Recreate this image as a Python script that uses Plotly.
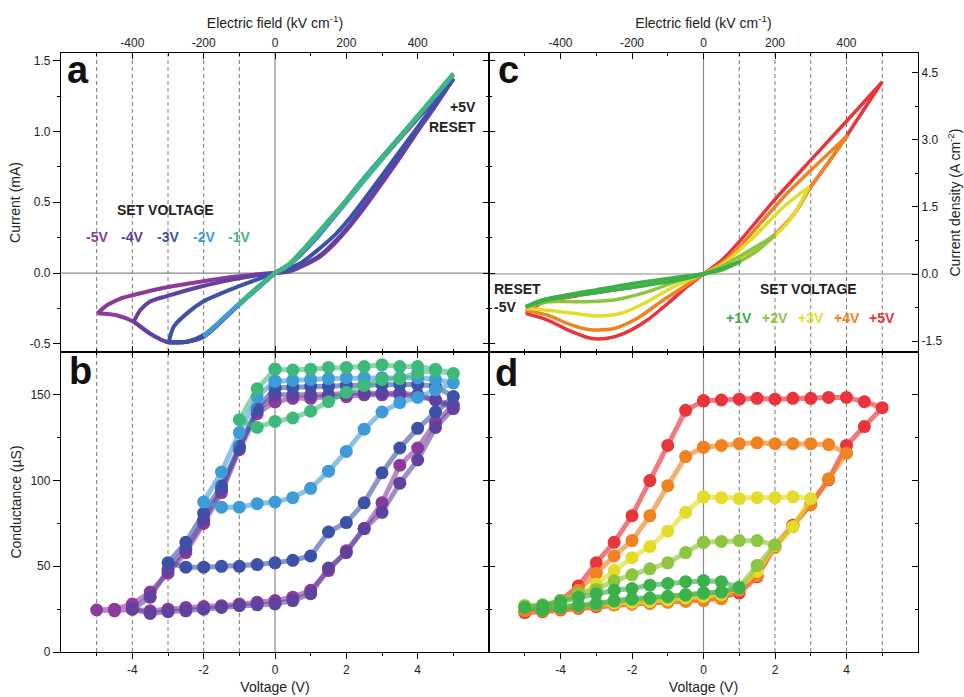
import plotly.graph_objects as go

# ---------------- data ----------------
SET_NEG = [-5, -4, -3, -2, -1]
SET_POS = [1, 2, 3, 4, 5]
LBL_NEG = ['-5V', '-4V', '-3V', '-2V', '-1V']
LBL_POS = ['+1V', '+2V', '+3V', '+4V', '+5V']
COL_NEG = ['#8C3B9C', '#6141A0', '#3C52A8', '#3D9BD8', '#3DB97C']
COL_POS = ['#3CB04A', '#8DC540', '#E2DC2B', '#F08220', '#E8343A']

V_TICKS = [-4, -2, 0, 2, 4]
V_MINOR = [-5, -3, -1, 1, 3, 5]
E_TICKS = [-400, -200, 0, 200, 400]
E_MINOR = [-500, -300, -100, 100, 300, 500]
I_TICKS = [-0.5, 0.0, 0.5, 1.0, 1.5]
I_MINOR = [-0.25, 0.25, 0.75, 1.25]
J_TICKS = [-1.5, 0.0, 1.5, 3.0, 4.5]
J_MINOR = [-0.75, 0.75, 2.25, 3.75]
G_TICKS = [0, 50, 100, 150]
G_MINOR = [25, 75, 125]

# ---- panel a: I-V (mA), branches (V list, I list) ----
IV_A_M5 = [
    ([0, -1.02, -2.0, -2.47, -3.03, -3.49, -3.96, -4.42, -4.98],
     [0, -0.226, -0.45, -0.485, -0.487, -0.43, -0.344, -0.30, -0.285]),
    ([-4.98, -4.7, -4.33, -3.96, -3.49, -3.03, -2.1, -1.15, -0.4, 0],
     [-0.285, -0.226, -0.18, -0.155, -0.125, -0.10, -0.061, -0.026, -0.007, 0]),
    ([0, 0.42, 0.88, 1.26, 1.63, 2.09, 2.56, 3.03, 3.49, 3.96, 4.42, 5.0],
     [0, 0.012, 0.062, 0.115, 0.198, 0.327, 0.48, 0.645, 0.81, 0.987, 1.152, 1.37]),
    ([5.0, 3.96, 2.56, 1.16, 0.42, 0],
     [1.37, 1.08, 0.68, 0.245, 0.062, 0]),
]
IV_A_M4 = [
    ([0, -1.02, -2.0, -2.47, -3.03, -3.49, -3.96],
     [0, -0.226, -0.45, -0.485, -0.487, -0.43, -0.344]),
    ([-3.96, -3.77, -3.49, -3.03, -2.1, -1.16, -0.4, 0],
     [-0.344, -0.26, -0.2, -0.163, -0.097, -0.045, -0.012, 0]),
    ([0, 0.42, 0.88, 1.26, 1.63, 2.09, 2.56, 3.03, 3.49, 3.96, 4.42, 5.0],
     [0, 0.015, 0.068, 0.125, 0.21, 0.34, 0.495, 0.66, 0.825, 1.0, 1.165, 1.375]),
    ([5.0, 3.96, 2.56, 1.16, 0.42, 0],
     [1.375, 1.085, 0.685, 0.25, 0.064, 0]),
]
IV_A_M3 = [
    ([0, -1.02, -2.0, -2.47, -2.98],
     [0, -0.226, -0.438, -0.485, -0.487]),
    ([-2.98, -2.84, -2.47, -2.0, -1.16, -0.42, 0],
     [-0.487, -0.38, -0.285, -0.2, -0.108, -0.038, 0]),
    ([0, 0.7, 1.63, 2.09, 2.56, 3.49, 4.42, 4.98],
     [0, 0.068, 0.257, 0.386, 0.54, 0.857, 1.175, 1.376]),
    ([4.98, 3.96, 2.56, 1.16, 0.42, 0],
     [1.376, 1.09, 0.69, 0.25, 0.066, 0]),
]
IV_A_M2 = [
    ([0, -1.02, -2.0], [0, -0.226, -0.45]),
    ([-2.0, -1.16, -0.5, 0], [-0.45, -0.25, -0.1, 0]),
    ([0, 0.42, 1.16, 2.56, 3.96, 5.0], [0, 0.06, 0.25, 0.67, 1.09, 1.40]),
    ([5.0, 3.96, 2.56, 1.16, 0.42, 0], [1.40, 1.10, 0.69, 0.26, 0.065, 0]),
]
IV_A_M1 = [
    ([0, -0.5, -1.02], [0, -0.105, -0.226]),
    ([-1.02, -0.5, 0], [-0.226, -0.105, 0]),
    ([0, 0.4, 0.8, 1.5, 2.5, 3.5, 5.0], [0, 0.065, 0.17, 0.37, 0.66, 0.96, 1.41]),
    ([5.0, 3.5, 2.5, 1.5, 0.8, 0.4, 0], [1.41, 0.96, 0.66, 0.37, 0.17, 0.065, 0]),
]
IV_A = [IV_A_M5, IV_A_M4, IV_A_M3, IV_A_M2, IV_A_M1]

# ---- panel c: J-V (A cm^-2) ----
JV_C_P1 = [
    ([0, -0.6, -1.57, -2.5, -3.43, -4.36, -4.97], [0, -0.12, -0.25, -0.36, -0.46, -0.58, -0.73]),
    ([-4.97, -4.6, -3.9, -2.97, -2.03, -1.0, 0], [-0.73, -0.6, -0.48, -0.35, -0.22, -0.1, 0]),
    ([0, 0.5, 1.04], [0, 0.1, 0.28]),
    ([1.04, 0.5, 0], [0.28, 0.12, 0]),
]
JV_C_P2 = [
    ([0, -0.63, -1.57, -2.5, -3.43, -4.36, -4.97], [0, -0.13, -0.40, -0.58, -0.62, -0.62, -0.75]),
    ([-4.97, -4.5, -3.5, -2.5, -1.5, -0.7, 0], [-0.75, -0.58, -0.45, -0.33, -0.2, -0.08, 0]),
    ([0, 0.5, 1.04, 1.5, 2.02], [0, 0.08, 0.29, 0.52, 0.88]),
    ([2.02, 1.32, 0.48, 0], [0.88, 0.54, 0.16, 0]),
]
JV_C_P3 = [
    ([0, -0.82, -1.57, -2.31, -2.97, -3.62, -4.36, -4.97], [0, -0.28, -0.62, -0.88, -0.94, -0.88, -0.81, -0.77]),
    ([-4.97, -4.5, -3.5, -2.5, -1.5, -0.7, 0], [-0.77, -0.6, -0.46, -0.34, -0.2, -0.09, 0]),
    ([0, 0.5, 1.04, 1.5, 2.02, 2.5, 2.95], [0, 0.1, 0.31, 0.55, 0.88, 1.3, 1.95]),
    ([2.95, 2.25, 1.32, 0.5, 0], [1.95, 1.51, 0.76, 0.2, 0]),
]
JV_C_P4 = [
    ([0, -0.54, -1.19, -1.85, -2.5, -3.15, -3.71, -4.36, -4.97], [0, -0.28, -0.62, -0.99, -1.22, -1.25, -1.14, -0.92, -0.82]),
    ([-4.97, -4.5, -3.5, -2.5, -1.5, -0.7, 0], [-0.82, -0.62, -0.47, -0.35, -0.21, -0.09, 0]),
    ([0, 0.5, 1.04, 1.5, 2.02, 2.53, 3.0, 3.5, 4.03], [0, 0.1, 0.31, 0.56, 0.9, 1.34, 1.95, 2.5, 3.1]),
    ([4.03, 3.0, 2.25, 1.5, 1.04, 0.5, 0], [3.1, 2.32, 1.73, 1.05, 0.63, 0.24, 0]),
]
JV_C_P5 = [
    ([0, -0.45, -1.0, -1.57, -2.22, -2.69, -3.15, -3.8, -4.36, -4.97], [0, -0.28, -0.66, -1.03, -1.33, -1.44, -1.44, -1.25, -1.03, -0.88]),
    ([-4.97, -4.5, -3.5, -2.5, -1.5, -0.7, 0], [-0.88, -0.64, -0.48, -0.36, -0.22, -0.09, 0]),
    ([0, 0.5, 1.04, 1.5, 2.02, 2.53, 3.0, 3.5, 4.03, 4.5, 5.0], [0, 0.1, 0.31, 0.56, 0.9, 1.34, 1.95, 2.5, 3.12, 3.7, 4.3]),
    ([5.0, 4.0, 3.0, 2.0, 1.04, 0.5, 0], [4.3, 3.42, 2.55, 1.67, 0.76, 0.3, 0]),
]
JV_C = [JV_C_P1, JV_C_P2, JV_C_P3, JV_C_P4, JV_C_P5]

# ---- panel b: conductance (uS), sweep 0 -> Vset -> +5 -> 0 (0.5 V steps) ----
G_B_M5 = [146, 139, 118, 93, 75, 58, 46, 35, 28, 25, 24.5,
          24, 25, 24, 25, 26, 26.5, 27, 28, 29, 30, 32, 36, 47.5, 59, 72, 87, 109, 119, 134, 144,
          147, 149, 150, 150, 150, 149, 149, 148, 148, 146]
G_B_M4 = [150, 141, 119, 95, 77, 60, 48, 32, 25,
          22.5, 23.5, 24, 25, 26, 27, 27.5, 28, 30, 34, 49, 58, 72, 81.5, 98.5, 112, 131, 142,
          147, 150, 151, 151, 151, 151, 150, 150, 150, 150]
G_B_M3 = [154, 142, 120, 97, 81, 64, 52,
          49.5, 49.5, 50, 50, 51, 52, 53.5, 56, 70, 75.5, 87, 104.5, 119, 130.5, 140, 149,
          155, 156, 156, 156, 156, 155.5, 155, 155, 154.5, 154]
G_B_M2 = [158, 149, 128, 105, 87.5,
          84.5, 84.5, 86.5, 87.5, 90, 95.5, 105.5, 117, 130, 140, 145.5, 148.5, 153, 157,
          159, 160, 160, 160, 160, 160, 159.5, 159, 158.5, 158]
G_B_M1 = [165, 153.5, 135.5,
          131, 134.5, 136.5, 140.5, 146, 151.5, 155.5, 159, 159.5, 163, 164, 162.5,
          165, 166.5, 166.5, 167.5, 166.5, 166, 166, 165, 164.5, 165]
G_B = [G_B_M5, G_B_M4, G_B_M3, G_B_M2, G_B_M1]

# ---- panel d: conductance (uS), sweep 0 -> -5 -> Vset -> 0 (0.5 V steps) ----
G_D_P1 = [41.5, 41, 40, 39, 37, 36, 34, 32, 29.5, 27, 26,
          24.5, 26, 27, 28, 30, 31, 31.5, 32.5, 33.5, 34.5, 35, 37.5,
          41, 41.5]
G_D_P2 = [64, 58, 52, 48.5, 45, 41.5, 36.5, 34, 30, 27.5, 27,
          25.5, 26.5, 27.5, 28.5, 29.5, 30.5, 31, 32, 33, 34, 35, 38, 50.5, 62.5,
          65, 65, 64.5, 64]
G_D_P3 = [90.5, 81.5, 70.5, 61.5, 55, 47.5, 39.5, 33, 29, 27, 27,
          26, 26.5, 27, 28, 28.5, 29, 29.5, 30.5, 31.5, 32.5, 33.5, 37.5, 47, 62, 73, 89.5,
          90.5, 90, 90, 89.5, 90, 90.5]
G_D_P4 = [119.5, 114, 97, 79.5, 65, 56, 46, 36, 30, 25.5, 24,
          24, 25, 26, 27, 27.5, 28, 28.5, 29, 29.5, 30, 31, 36, 44.5, 61, 73, 86, 101, 116,
          121, 121.5, 121.5, 121.5, 122, 121.5, 120.5, 119.5]
G_D_P5 = [146.5, 141, 120.5, 100, 79.5, 64, 52, 38.5, 30, 25, 23,
          23.5, 24.5, 25.5, 26.5, 27.5, 28, 28.5, 29.5, 30, 30.5, 32, 34.5, 44, 62, 74, 86, 100.5, 120.5, 131.5, 142.5,
          146, 148.5, 148.5, 148, 148, 147.5, 148, 147.5, 147, 146.5]
G_D = [G_D_P1, G_D_P2, G_D_P3, G_D_P4, G_D_P5]


def sweep_neg(vset, step=0.5, vmax=5):
    n1 = int(round(-vset / step))
    down = [-step * k for k in range(n1 + 1)]
    n2 = int(round((vmax - vset) / step))
    up = [vset + step * k for k in range(1, n2 + 1)]
    n3 = int(round(vmax / step))
    back = [vmax - step * k for k in range(1, n3 + 1)]
    return down + up + back


def sweep_pos(vset, step=0.5, vmin=-5):
    n1 = int(round(-vmin / step))
    down = [-step * k for k in range(n1 + 1)]
    n2 = int(round((vset - vmin) / step))
    up = [vmin + step * k for k in range(1, n2 + 1)]
    n3 = int(round(vset / step))
    back = [vset - step * k for k in range(1, n3 + 1)]
    return down + up + back


def join_branches(branches):
    xs, ys = [], []
    for bx, by in branches:
        if xs:
            xs.append(None)
            ys.append(None)
        xs += list(bx)
        ys += list(by)
    return xs, ys


def rgba(hexc, a):
    h = hexc.lstrip('#')
    return 'rgba(%d,%d,%d,%.2f)' % (int(h[0:2], 16), int(h[2:4], 16), int(h[4:6], 16), a)


# ---------------- layout geometry ----------------
W, H = 964, 697
ML, MR, MT, MB = 61, 46, 53, 45
PW, PH = W - ML - MR, H - MT - MB
DL = 428 / PW          # split between left / right columns
DY = 1 - 299 / PH      # split between top / bottom rows
FONT = 'Liberation Sans, Arial, sans-serif'
TXT = '#222222'


def px2x(px):
    return (px - ML) / PW


def py2y(py):
    return (H - MB - py) / PH


fig = go.Figure()

# panel a
for br, col in zip(IV_A, COL_NEG):
    xs, ys = join_branches(br)
    fig.add_trace(go.Scatter(x=xs, y=ys, mode='lines', xaxis='x2', yaxis='y2',
                             line=dict(color=col, width=4, shape='spline', smoothing=0.7),
                             connectgaps=False, hoverinfo='skip'))
# panel c (red first, green on top)
for br, col in reversed(list(zip(JV_C, COL_POS))):
    xs, ys = join_branches(br)
    fig.add_trace(go.Scatter(x=xs, y=ys, mode='lines', xaxis='x4', yaxis='y4',
                             line=dict(color=col, width=3.5, shape='spline', smoothing=0.7),
                             connectgaps=False, hoverinfo='skip'))
# panel b
for vs, g, col in zip(SET_NEG, G_B, COL_NEG):
    v = sweep_neg(vs)
    assert len(v) == len(g), (vs, len(v), len(g))
    fig.add_trace(go.Scatter(x=v, y=g, mode='lines+markers', xaxis='x', yaxis='y',
                             line=dict(color=rgba(col, 0.6), width=5),
                             marker=dict(color=col, size=13, line=dict(width=0)),
                             hoverinfo='skip'))
# panel d (red first)
for vs, g, col in reversed(list(zip(SET_POS, G_D, COL_POS))):
    v = sweep_pos(vs)
    assert len(v) == len(g), (vs, len(v), len(g))
    fig.add_trace(go.Scatter(x=v, y=g, mode='lines+markers', xaxis='x3', yaxis='y3',
                             line=dict(color=rgba(col, 0.65), width=5),
                             marker=dict(color=col, size=13, line=dict(width=0)),
                             hoverinfo='skip'))

# dummy traces so that the mirror / secondary axes are instantiated
for xa, ya in [('x5', 'y'), ('x', 'y5'), ('x6', 'y2'), ('x2', 'y6'),
               ('x7', 'y3'), ('x3', 'y7'), ('x8', 'y4'), ('x4', 'y8')]:
    fig.add_trace(go.Scatter(x=[None], y=[None], xaxis=xa, yaxis=ya, mode='lines',
                             showlegend=False, hoverinfo='skip'))

tickfont = dict(family=FONT, size=12, color=TXT)
titlefont = dict(family=FONT, size=14, color=TXT)


def fmt(vals, nd=None):
    if nd is None:
        return [str(int(v)) for v in vals]
    return [('%.' + str(nd) + 'f') % v for v in vals]


def ax(domain, anchor, rng, tv, tt, minor_vals, ticks, labels, side=None, overlaying=None,
       title=None, standoff=None, major_len=6, minor_len=3):
    d = dict(domain=domain, anchor=anchor, range=rng, tickmode='array', tickvals=tv,
             ticktext=tt, showticklabels=labels, ticks=ticks, ticklen=major_len, tickwidth=1,
             tickcolor='black', showline=True, linecolor='black', linewidth=1.3,
             mirror=False, showgrid=False, zeroline=False, automargin=False,
             tickfont=tickfont,
             minor=dict(tickmode='array', tickvals=minor_vals, ticks=ticks, ticklen=minor_len,
                        tickwidth=1, tickcolor='black', showgrid=False))
    if side:
        d['side'] = side
    if overlaying:
        d['overlaying'] = overlaying
        d.pop('domain')
    if title:
        d['title'] = dict(text=title, font=titlefont, standoff=standoff)
    return d


VR = [-6, 6]
ER = [-600, 600]
IR = [-0.558, 1.555]
JR = [-1.746, 4.947]
GR = [0, 175]
LEFT = [0, DL]
RIGHT = [DL, 1]
BOT = [0, DY]
TOP = [DY, 1]

layout_axes = dict(
    # panel b
    xaxis=ax(LEFT, 'y', VR, V_TICKS, fmt(V_TICKS), V_MINOR, 'outside', True,
             title='Voltage (V)', standoff=6),
    yaxis=ax(BOT, 'x', GR, G_TICKS, fmt(G_TICKS), G_MINOR, 'outside', True,
             title='Conductance (µS)', standoff=5, major_len=7),
    xaxis5=ax(None, 'y', VR, V_TICKS, fmt(V_TICKS), V_MINOR, 'inside', False,
              side='top', overlaying='x'),
    yaxis5=ax(None, 'x', GR, G_TICKS, fmt(G_TICKS), G_MINOR, 'inside', False,
              side='right', overlaying='y'),
    # panel a
    xaxis2=ax(LEFT, 'y2', VR, V_TICKS, fmt(V_TICKS), V_MINOR, 'inside', False),
    yaxis2=ax(TOP, 'x2', IR, I_TICKS, fmt(I_TICKS, 1), I_MINOR, 'outside', True,
              title='Current (mA)', standoff=5, major_len=7),
    xaxis6=ax(None, 'y2', ER, E_TICKS, fmt(E_TICKS), E_MINOR, 'inside', True,
              side='top', overlaying='x2', title='Electric field (kV cm<sup>-1</sup>)', standoff=4),
    yaxis6=ax(None, 'x2', IR, I_TICKS, fmt(I_TICKS, 1), I_MINOR, 'inside', False,
              side='right', overlaying='y2'),
    # panel d
    xaxis3=ax(RIGHT, 'y3', VR, V_TICKS, fmt(V_TICKS), V_MINOR, 'outside', True,
              title='Voltage (V)', standoff=6),
    yaxis3=ax(BOT, 'x3', GR, G_TICKS, fmt(G_TICKS), G_MINOR, 'inside', False),
    xaxis7=ax(None, 'y3', VR, V_TICKS, fmt(V_TICKS), V_MINOR, 'inside', False,
              side='top', overlaying='x3'),
    yaxis7=ax(None, 'x3', GR, G_TICKS, fmt(G_TICKS), G_MINOR, 'inside', False,
              side='right', overlaying='y3'),
    # panel c
    xaxis4=ax(RIGHT, 'y4', VR, V_TICKS, fmt(V_TICKS), V_MINOR, 'inside', False),
    yaxis4=ax(TOP, 'x4', JR, J_TICKS, fmt(J_TICKS, 1), J_MINOR, 'inside', True,
              side='right', title='Current density (A cm<sup>-2</sup>)', standoff=8),
    xaxis8=ax(None, 'y4', ER, E_TICKS, fmt(E_TICKS), E_MINOR, 'inside', True,
              side='top', overlaying='x4', title='Electric field (kV cm<sup>-1</sup>)', standoff=4),
    yaxis8=ax(None, 'x4', IR, I_TICKS, fmt(I_TICKS, 1), I_MINOR, 'inside', False,
              side='left', overlaying='y4'),
)

shapes = []
dash_style = dict(color='#7a7a7a', width=1, dash='4px,3px')
for v in SET_NEG:
    shapes.append(dict(type='line', xref='x', yref='paper', x0=v, x1=v, y0=0, y1=1,
                       line=dash_style, layer='below'))
for v in SET_POS:
    shapes.append(dict(type='line', xref='x3', yref='paper', x0=v, x1=v, y0=0, y1=1,
                       line=dash_style, layer='below'))
zero_style = dict(color='#8a8a8a', width=1.2)
for xr in ['x', 'x3']:
    shapes.append(dict(type='line', xref=xr, yref='paper', x0=0, x1=0, y0=0, y1=1,
                       line=zero_style, layer='below'))
shapes.append(dict(type='line', xref='paper', yref='y2', x0=0, x1=DL, y0=0, y1=0,
                   line=zero_style, layer='below'))
shapes.append(dict(type='line', xref='paper', yref='y4', x0=DL, x1=1, y0=0, y1=0,
                   line=zero_style, layer='below'))

ann = []


def add_text(text, px, py, size, color=TXT, bold=True, xanchor='center', xref='paper', xval=None):
    ann.append(dict(text=('<b>%s</b>' % text) if bold else text,
                    x=(xval if xval is not None else px2x(px)), xref=xref,
                    y=py2y(py), yref='paper', xanchor=xanchor, yanchor='middle',
                    showarrow=False, font=dict(family=FONT, size=size, color=color)))


# panel letters
add_text('a', 78, 70, 38, color='#111')
add_text('b', 80, 371, 38, color='#111')
add_text('c', 508, 70, 38, color='#111')
add_text('d', 507, 373, 38, color='#111')
# panel a labels
add_text('SET VOLTAGE', 165, 210, 14)
for v, t, c in zip(SET_NEG, LBL_NEG, COL_NEG):
    add_text(t, 0, 237, 14, color=c, xref='x2', xval=v)
add_text('+5V', 478, 107, 14, xanchor='right')
add_text('RESET', 478, 127, 14, xanchor='right')
# panel c labels
add_text('RESET', 492, 289, 14, xanchor='left')
add_text('-5V', 492, 307, 14, xanchor='left')
add_text('SET VOLTAGE', 808, 289, 14)
for v, t, c in zip(SET_POS, LBL_POS, COL_POS):
    add_text(t, 0, 318, 14, color=c, xref='x4', xval=v)

fig.update_layout(
    width=W, height=H,
    margin=dict(l=ML, r=MR, t=MT, b=MB, pad=0),
    paper_bgcolor='white', plot_bgcolor='white',
    showlegend=False,
    font=dict(family=FONT, color=TXT),
    shapes=shapes, annotations=ann,
    **layout_axes,
)

fig.write_html('out.html')
